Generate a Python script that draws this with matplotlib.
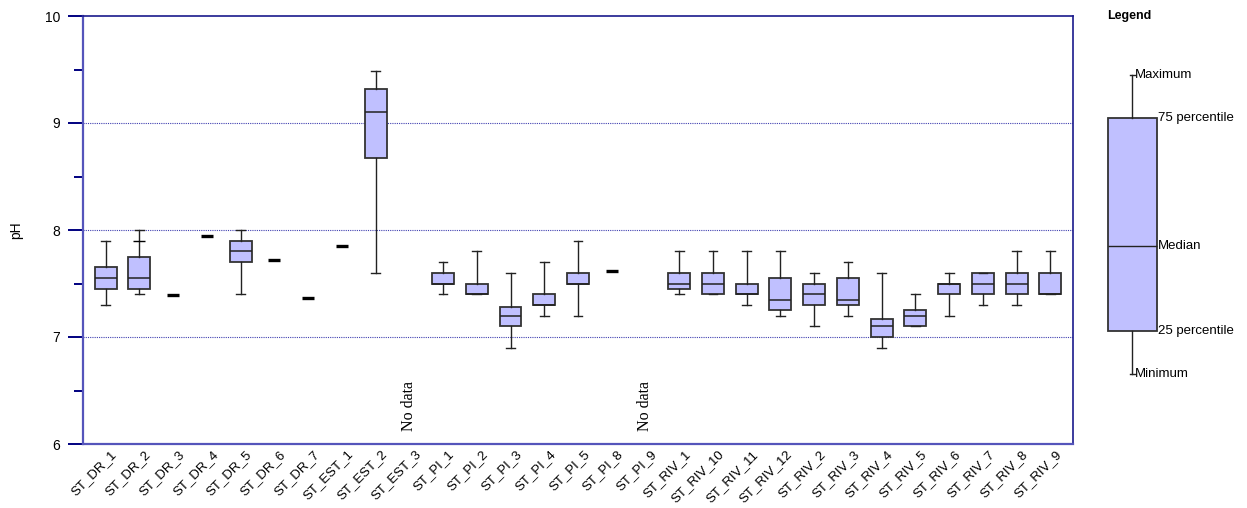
#!/usr/bin/env python3
"""pH box plots per station, with a drawn legend box on the right."""

import matplotlib

matplotlib.use("Agg")
import matplotlib.pyplot as plt
import matplotlib.transforms as mtransforms
import numpy as np

plt.rcParams["font.family"] = ["Liberation Sans", "DejaVu Sans"]

STATIONS = [
    "ST_DR_1", "ST_DR_2", "ST_DR_3", "ST_DR_4", "ST_DR_5", "ST_DR_6", "ST_DR_7",
    "ST_EST_1", "ST_EST_2", "ST_EST_3",
    "ST_PI_1", "ST_PI_2", "ST_PI_3", "ST_PI_4", "ST_PI_5", "ST_PI_8", "ST_PI_9",
    "ST_RIV_1", "ST_RIV_10", "ST_RIV_11", "ST_RIV_12", "ST_RIV_2", "ST_RIV_3",
    "ST_RIV_4", "ST_RIV_5", "ST_RIV_6", "ST_RIV_7", "ST_RIV_8", "ST_RIV_9",
]

# stations with a full distribution
BOX_IDX = [0, 1, 4, 8, 10, 11, 12, 13, 14, 17, 18, 19, 20, 21, 22, 23, 24, 25, 26, 27, 28]
BOX_MIN = [7.30, 7.40, 7.40, 7.60, 7.40, 7.40, 6.90, 7.20, 7.20, 7.40, 7.40, 7.30, 7.20,
           7.10, 7.20, 6.90, 7.10, 7.20, 7.30, 7.30, 7.40]
BOX_Q1 = [7.45, 7.45, 7.70, 8.67, 7.50, 7.40, 7.10, 7.30, 7.50, 7.45, 7.40, 7.40, 7.25,
          7.30, 7.30, 7.00, 7.10, 7.40, 7.40, 7.40, 7.40]
BOX_MED = [7.55, 7.55, 7.80, 9.10, 7.50, 7.40, 7.20, 7.30, 7.50, 7.50, 7.50, 7.40, 7.35,
           7.40, 7.35, 7.10, 7.20, 7.50, 7.50, 7.50, 7.40]
BOX_Q3 = [7.65, 7.75, 7.90, 9.32, 7.60, 7.50, 7.28, 7.40, 7.60, 7.60, 7.60, 7.50, 7.55,
          7.50, 7.55, 7.17, 7.25, 7.50, 7.60, 7.60, 7.60]
BOX_MAX = [7.90, 8.00, 8.00, 9.49, 7.70, 7.80, 7.60, 7.70, 7.90, 7.80, 7.80, 7.80, 7.80,
           7.60, 7.70, 7.60, 7.40, 7.60, 7.60, 7.80, 7.80]

# stations with a single measurement
SINGLE_IDX = [2, 3, 5, 6, 7, 15]
SINGLE_VAL = [7.39, 7.94, 7.72, 7.36, 7.85, 7.62]

# extra whisker mark on ST_DR_2
EXTRA_CAP_IDX = [1]
EXTRA_CAP_VAL = [7.9]

NO_DATA_IDX = [9, 16]

LEGEND_LEVELS = [6.65, 7.06, 7.85, 9.05, 9.45]  # min, q1, median, q3, max
LEGEND_LABELS = ["Minimum", "25 percentile", "Median", "75 percentile", "Maximum"]

BOX_FILL = "#c0c0ff"
NAVY = "#1a1a8c"

fig = plt.figure(figsize=(12.47, 5.08), dpi=100)
ax = fig.add_axes([83 / 1247, 64 / 508, 990 / 1247, 428 / 508])

stats = [
    {"whislo": lo, "q1": q1, "med": md, "q3": q3, "whishi": hi, "fliers": []}
    for lo, q1, md, q3, hi in zip(BOX_MIN, BOX_Q1, BOX_MED, BOX_Q3, BOX_MAX)
]
ax.bxp(
    stats,
    positions=BOX_IDX,
    widths=0.65,
    capwidths=0.26,
    patch_artist=True,
    showfliers=False,
    boxprops=dict(facecolor=BOX_FILL, edgecolor="#333333", linewidth=1.3),
    medianprops=dict(color="#222222", linewidth=1.1),
    whiskerprops=dict(color="#222222", linewidth=1.0),
    capprops=dict(color="#222222", linewidth=1.0),
    manage_ticks=False,
)

ax.plot(SINGLE_IDX, SINGLE_VAL, linestyle="none", marker="_", markersize=9,
        markeredgewidth=2.4, color="black")
ax.plot(EXTRA_CAP_IDX, EXTRA_CAP_VAL, linestyle="none", marker="_", markersize=8,
        markeredgewidth=1.0, color="black")

for idx in NO_DATA_IDX:
    ax.text(idx, 6.12, "No data", rotation=90, ha="center", va="bottom",
            fontsize=11.5, family=["Liberation Serif", "DejaVu Serif"])

ax.set_xlim(-0.67, len(STATIONS) - 1 + 0.67)
ax.set_ylim(6, 10)
ax.set_xticks(np.arange(len(STATIONS)))
ax.set_xticklabels(STATIONS, rotation=45, ha="right", rotation_mode="anchor", fontsize=9.5)
ax.tick_params(axis="x", length=0, pad=3)
shift = mtransforms.ScaledTranslation(5 / 100, 0, fig.dpi_scale_trans)
for lbl in ax.get_xticklabels():
    lbl.set_transform(lbl.get_transform() + shift)
ax.set_yticks([6, 7, 8, 9, 10])
ax.set_yticks([6.5, 7.5, 8.5, 9.5], minor=True)
ax.tick_params(axis="y", which="major", length=11, width=1.4, color="#000080",
               labelsize=10, pad=5.5)
ax.tick_params(axis="y", which="minor", length=6.5, width=1.4, color="#000080")
ax.set_ylabel("pH", fontsize=10)
ax.yaxis.set_label_coords(-0.0606, 0.5)

for y in [7, 8, 9]:
    ax.axhline(y, color="#4040b0", linestyle=(0, (1, 1)), linewidth=0.8, zorder=0)

for side in ["top", "right"]:
    ax.spines[side].set_color(NAVY)
    ax.spines[side].set_linewidth(1.2)
for side in ["left", "bottom"]:
    ax.spines[side].set_color("#5555bb")
    ax.spines[side].set_linewidth(1.6)

# legend panel, same vertical scale as the main axes
lax = fig.add_axes([1100 / 1247, 64 / 508, 147 / 1247, 428 / 508])
lax.axis("off")
lo, q1, md, q3, hi = LEGEND_LEVELS
lax.bxp(
    [{"whislo": lo, "q1": q1, "med": md, "q3": q3, "whishi": hi, "fliers": []}],
    positions=[32],
    widths=49,
    capwidths=5,
    patch_artist=True,
    showfliers=False,
    boxprops=dict(facecolor=BOX_FILL, edgecolor="#333333", linewidth=1.3),
    medianprops=dict(color="#222222", linewidth=1.0),
    whiskerprops=dict(color="#222222", linewidth=1.0),
    capprops=dict(color="#222222", linewidth=1.0),
    manage_ticks=False,
)
lax.set_xlim(0, 147)
lax.set_ylim(6, 10)
for level, label in zip(LEGEND_LEVELS, LEGEND_LABELS):
    x = 35 if label in ("Minimum", "Maximum") else 58
    lax.text(x, level, label, ha="left", va="center", fontsize=9.5)
lax.text(7, 10.0, "Legend", ha="left", va="center", fontsize=9, fontweight="bold")

fig.savefig("out.png", dpi=100)
